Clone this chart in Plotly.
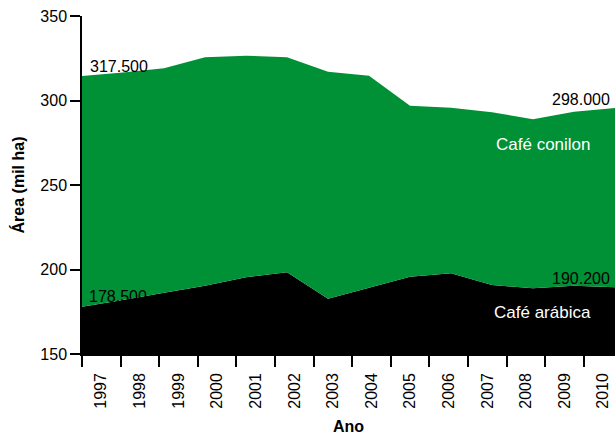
import plotly.graph_objects as go

anos = [1997, 1998, 1999, 2000, 2001, 2002, 2003, 2004, 2005, 2006, 2007, 2008, 2009, 2010]
arabica = [178.0, 182.0, 186.2, 190.4, 195.4, 198.3, 182.7, 189.2, 195.7, 197.8, 190.8, 188.9, 190.4, 189.5]
conilon = [136.5, 134.6, 132.9, 135.2, 131.1, 127.3, 134.3, 125.5, 101.2, 97.9, 102.2, 100.0, 103.0, 106.1]
ano_labels = [str(a) for a in anos]
y_ticks = [150, 200, 250, 300, 350]

FONT = "Liberation Sans, Arial, Helvetica, sans-serif"
GREEN = "#009036"

# tick-label bands are slightly narrower than the data spacing in the original
step = 0.9415
band_edges = [anos[0] + step * k for k in range(len(anos))]
band_centres = [anos[0] + step * (k + 0.5) for k in range(len(anos))]

fig = go.Figure()
fig.add_trace(go.Scatter(
    x=anos, y=arabica, name="Café arábica", stackgroup="a", mode="none",
    fillcolor="#000000", line=dict(width=0)))
fig.add_trace(go.Scatter(
    x=anos, y=conilon, name="Café conilon", stackgroup="a", mode="none",
    fillcolor=GREEN, line=dict(width=0)))

ann_font = dict(family=FONT, size=16, color="black")
white_font = dict(family=FONT, size=17, color="white")
fig.add_annotation(x=1997.14, y=320.0, text="317.500", showarrow=False,
                   xanchor="left", yanchor="middle", font=ann_font)
fig.add_annotation(x=2009.93, y=300.7, text="298.000", showarrow=False,
                   xanchor="right", yanchor="middle", font=ann_font)
fig.add_annotation(x=1997.12, y=184.3, text="178.500", showarrow=False,
                   xanchor="left", yanchor="middle", font=ann_font)
fig.add_annotation(x=2009.92, y=194.4, text="190.200", showarrow=False,
                   xanchor="right", yanchor="middle", font=ann_font)
fig.add_annotation(x=2008.26, y=274.1, text="Café conilon", showarrow=False,
                   xanchor="center", yanchor="middle", font=white_font)
fig.add_annotation(x=2008.24, y=174.7, text="Café arábica", showarrow=False,
                   xanchor="center", yanchor="middle", font=white_font)

fig.update_layout(
    width=615, height=435,
    margin=dict(l=82, r=0, t=16, b=81),
    paper_bgcolor="white", plot_bgcolor="white",
    showlegend=False,
    font=dict(family=FONT, size=15, color="black"),
    xaxis=dict(
        range=[anos[0], anos[-1]],
        tickmode="array", tickvals=band_centres, ticktext=ano_labels,
        tickangle=-90, ticks="outside", ticklen=11, tickcolor="rgba(0,0,0,0)",
        tickfont=dict(family=FONT, size=16, color="black"),
        minor=dict(tickmode="array", tickvals=band_edges, ticks="outside",
                   ticklen=11, tickwidth=1.5, tickcolor="black", showgrid=False),
        showline=True, linecolor="black", linewidth=1.5,
        showgrid=False, zeroline=False,
        title=dict(text="<b>Ano</b>", font=dict(family=FONT, size=16, color="black"),
                   standoff=16),
    ),
    yaxis=dict(
        range=[150, 350],
        tickmode="array", tickvals=y_ticks,
        ticks="outside", ticklen=10, tickwidth=1.5, tickcolor="black",
        tickfont=dict(family=FONT, size=16, color="black"),
        showline=True, linecolor="black", linewidth=1.5,
        showgrid=False, zeroline=False,
        title=dict(text="<b>Área (mil ha)</b>", font=dict(family=FONT, size=16, color="black"),
                   standoff=12),
    ),
)

fig.write_html("out.html", config={"displayModeBar": False},
               post_script="document.body.style.margin='0';document.body.style.overflow='hidden';")
